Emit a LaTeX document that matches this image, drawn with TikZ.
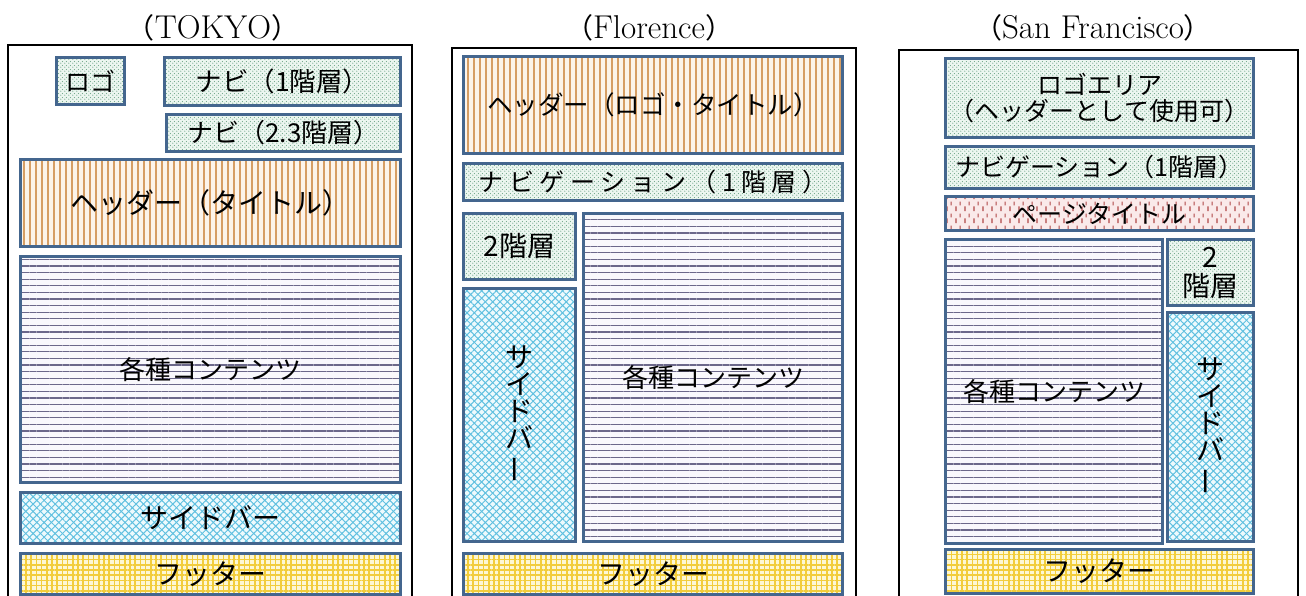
\documentclass[tikz,border=0pt]{standalone}
\usepackage{fontspec}
\usepackage{graphicx}
\newfontfamily\cjk{Noto Sans CJK JP}
\usetikzlibrary{patterns,patterns.meta}

\definecolor{bord}{RGB}{68,102,142}
\definecolor{mintbg}{RGB}{236,246,240}
\definecolor{mintdot}{RGB}{110,165,135}
\definecolor{orline}{RGB}{214,158,100}
\definecolor{orbg}{RGB}{252,244,234}
\definecolor{cline}{RGB}{108,104,138}
\definecolor{cbg}{RGB}{249,248,252}
\definecolor{sbbg}{RGB}{238,250,253}
\definecolor{sbline}{RGB}{96,192,224}
\definecolor{ftbg}{RGB}{253,247,212}
\definecolor{ftline}{RGB}{242,205,60}
\definecolor{pkbg}{RGB}{250,234,234}
\definecolor{pkline}{RGB}{176,70,70}

\tikzdeclarepattern{
  name=vdash,
  type=uncolored,
  bounding box={(0pt,0pt) and (9pt,12pt)},
  tile size={(9pt,12pt)},
  code={
    \draw[line width=1.3pt] (2.25pt,1pt) -- (2.25pt,6pt);
    \draw[line width=1.3pt] (6.75pt,7pt) -- (6.75pt,11pt);
  }
}
\tikzdeclarepattern{
  name=dotgrid,
  type=uncolored,
  bounding box={(0pt,0pt) and (4pt,4pt)},
  tile size={(4pt,4pt)},
  code={\fill (1pt,1pt) circle (0.7pt); \fill (3pt,3pt) circle (0.7pt);}
}

\begin{document}
\begin{tikzpicture}[x=1pt,y=-1pt,
  frame/.style={draw=black,line width=2.5pt},
  title/.style={font=\fontsize{33}{33}\selectfont,anchor=base,inner sep=0pt},
  box/.style={draw=bord,line width=2.8pt,inner sep=0pt,text=black,anchor=center,
    font=\cjk\fontsize{26}{26}\selectfont},
  t/.style={font=\cjk\fontsize{#1}{#1}\selectfont},
  sz/.style n args={2}{minimum width=#1pt,minimum height=#2pt},
  nav/.style={box,preaction={fill=mintbg},preaction={pattern=dotgrid,pattern color=mintdot}},
  head/.style={box,preaction={fill=orbg},
    preaction={pattern={Lines[angle=90,distance=6pt,line width=2.2pt]},pattern color=orline}},
  cont/.style={box,preaction={fill=cbg},
    preaction={pattern={Lines[angle=0,distance=6.6pt,line width=1.15pt]},pattern color=cline}},
  side/.style={box,preaction={fill=sbbg},
    preaction={pattern={Lines[angle=45,distance=5.2pt,line width=1pt]},pattern color=sbline},
    preaction={pattern={Lines[angle=-45,distance=5.2pt,line width=1pt]},pattern color=sbline}},
  foot/.style={box,preaction={fill=ftbg},
    preaction={pattern={Lines[angle=0,distance=5.2pt,line width=1.6pt]},pattern color=ftline},
    preaction={pattern={Lines[angle=90,distance=5.2pt,line width=1.6pt]},pattern color=ftline}},
  ptitle/.style={box,preaction={fill=pkbg},preaction={pattern=vdash,pattern color=pkline}},
  vert/.style={align=center,font=\cjk\fontsize{28}{27}\selectfont}
]
\useasboundingbox (0,0) rectangle (1306,596);

% titles
\node[title] (ttok) at (213,39) {{\cjk\fontsize{28}{28}\selectfont （}TOKYO{\cjk\fontsize{28}{28}\selectfont ）}};
\node[title] (tflo) at (649,39) {{\cjk\fontsize{28}{28}\selectfont （}Florence{\cjk\fontsize{28}{28}\selectfont ）}};
\node[title] (tsf) at (1093,39) {{\cjk\fontsize{28}{28}\selectfont （}San Francisco{\cjk\fontsize{28}{28}\selectfont ）}};

% outer frames
\draw[frame] (8,597) |- (412,45) -- (412,597);
\draw[frame] (452,597) |- (856,48) -- (856,597);
\draw[frame] (899,597) |- (1298,50) -- (1298,597);

% TOKYO
\node[nav,t=25,sz={68}{47}] (tlogo) at (90.5,81) {ロゴ};
\node[nav,t=26.5,sz={236}{48}] (tnav1) at (282.5,81.5) {ナビ（1階層）};
\node[nav,t=26,sz={234}{37}] (tnav2) at (283.5,133) {ナビ（2.3階層）};
\node[head,t=28,sz={380}{87}] (thead) at (210.5,203) {ヘッダー（タイトル）};
\node[cont,t=26,sz={380}{226}] (tcont) at (210.5,369.5) {各種コンテンツ};
\node[side,t=28,sz={380}{51}] (tside) at (210.5,518) {サイドバー};
\node[foot,t=28,sz={380}{41}] (tfoot) at (210.5,574) {フッター};

% Florence
\node[head,t=25.5,sz={379}{97}] (fhead) at (653,105) {ヘッダー（ロゴ・タイトル）};
\node[nav,font=\cjk\addfontfeature{LetterSpace=22}\fontsize{25}{25}\selectfont,
  sz={379}{37}] (fnav) at (653,182) {ナビゲーション（1階層）};
\node[nav,t=28,sz={112}{66}] (fsub) at (519.5,246.5) {2階層};
\node[side,vert,sz={112}{253}] (fside) at (519.5,415)
  {サ\\イ\\ド\\バ\\\rotatebox[origin=c]{90}{ー}};
\node[cont,t=26,sz={259}{328}] (fcont) at (713,377.5) {各種コンテンツ};
\node[foot,t=28,sz={379}{41}] (ffoot) at (653,574) {フッター};

% San Francisco
\node[nav,align=center,font=\cjk\fontsize{25}{26}\selectfont,sz={308}{79}] (slogo) at (1099.5,98)
  {ロゴエリア\\（ヘッダーとして使用可）};
\node[nav,t=25,sz={308}{42}] (snav) at (1099.5,167.5) {ナビゲーション（1階層）};
\node[ptitle,t=25,sz={308}{34}] (stitle) at (1099.5,213.5) {ページタイトル};
\node[cont,t=26,sz={217}{304}] (scont) at (1054,391.5) {各種コンテンツ};
\node[nav,align=center,font=\cjk\fontsize{28}{29}\selectfont,sz={86}{66}] (ssub) at (1210.5,272.5) {2\\階層};
\node[side,vert,sz={86}{229}] (sside) at (1210.5,427)
  {サ\\イ\\ド\\バ\\\rotatebox[origin=c]{90}{ー}};
\node[foot,t=28,sz={308}{44}] (sfoot) at (1099.5,571.5) {フッター};
\end{tikzpicture}
\end{document}
